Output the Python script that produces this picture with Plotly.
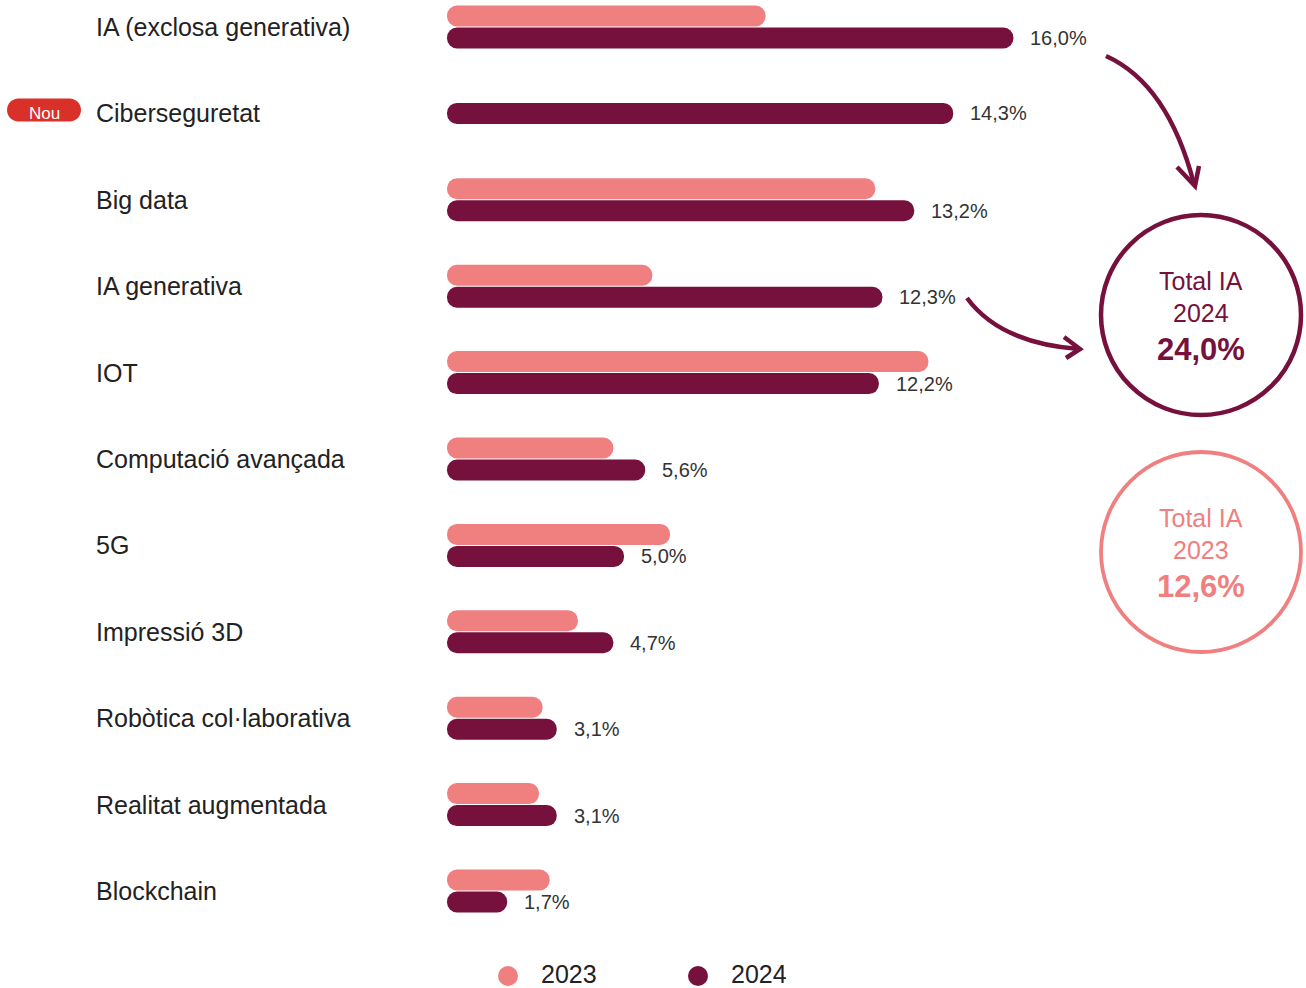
import plotly.graph_objects as go

# ---------------- data ----------------
categories = ["IA (exclosa generativa)", "Ciberseguretat", "Big data", "IA generativa", "IOT",
              "Computació avançada", "5G", "Impressió 3D", "Robòtica col·laborativa",
              "Realitat augmentada", "Blockchain"]
values_2023 = [9.0, None, 12.1, 5.8, 13.6, 4.7, 6.3, 3.7, 2.7, 2.6, 2.9]
values_2024 = [16.0, 14.3, 13.2, 12.3, 12.2, 5.6, 5.0, 4.7, 3.1, 3.1, 1.7]
new_categories = ["Ciberseguretat"]
series_names = ["2023", "2024"]
total_ia_2023 = 12.6
total_ia_2024 = 24.0

# ---------------- style / layout constants ----------------
C2023 = "#F07F80"
C2024 = "#76103C"
CNEW = "#D9302A"
TXT = "#222222"
FONT = "Liberation Sans, Arial, sans-serif"

W, H = 1306, 988
ML, MR, MT, MB = 447, 0, 0, 48
PW, PH = W - ML - MR, H - MT - MB
PX_PER_PCT = 35.4
ROW_PX = 86.4
ROW0_PX = 27.0
BAR_PX = 21.0
GAP_PX = 1.0

BAR_W = BAR_PX / ROW_PX
OFF_2023 = -(BAR_PX + GAP_PX / 2) / ROW_PX
OFF_2024 = (GAP_PX / 2) / ROW_PX
OFF_SINGLE = -BAR_W / 2

y_low = -ROW0_PX / ROW_PX
y_high = y_low + PH / ROW_PX


def X(px):
    return (px - ML) / PW


def Y(py):
    return 1 - (py - MT) / PH


def fmt(v):
    return f"{v:.1f}".replace(".", ",") + "%"


fig = go.Figure()


def add_pill(vals, offsets, color):
    cats = [c for c, v in zip(categories, vals) if v is not None]
    xs = [v for v in vals if v is not None]
    offs = [o for o, v in zip(offsets, vals) if v is not None]
    fig.add_trace(go.Bar(y=cats, x=xs, base=[0] * len(xs), orientation="h",
                         offset=offs, width=BAR_W,
                         marker=dict(color=color, cornerradius="50%", line=dict(width=0)),
                         showlegend=False, hoverinfo="skip"))


only_2024 = [values_2023[i] is None for i in range(len(categories))]
off24 = [OFF_SINGLE if s else OFF_2024 for s in only_2024]
off23 = [OFF_2023] * len(categories)
add_pill(values_2023, off23, C2023)
add_pill(values_2024, off24, C2024)

annotations = []
# category labels
for c in categories:
    annotations.append(dict(x=X(94), xref="paper", y=c, yref="y", text=c, showarrow=False,
                            xanchor="left", yanchor="middle",
                            font=dict(size=25, color=TXT, family=FONT)))
# value labels (2024)
for c, v, o in zip(categories, values_2024, off24):
    yshift = -(o + BAR_W / 2) * ROW_PX
    annotations.append(dict(x=v, xref="x", y=c, yref="y", text=fmt(v), showarrow=False,
                            xanchor="left", yanchor="middle", xshift=15, yshift=yshift,
                            font=dict(size=20, color="#333333", family=FONT)))
# "Nou" badge text
for c in new_categories:
    annotations.append(dict(x=X(44), xref="paper", y=c, yref="y", text="Nou", showarrow=False,
                            xanchor="center", yanchor="middle",
                            font=dict(size=17, color="white", family=FONT)))

# circles with totals
for cy, col, yr, tot in [(315, C2024, series_names[1], total_ia_2024),
                         (552, C2023, series_names[0], total_ia_2023)]:
    annotations.append(dict(x=X(1201), y=Y(cy - 34), xref="paper", yref="paper", text="Total IA",
                            showarrow=False, xanchor="center", yanchor="middle",
                            font=dict(size=25, color=col, family=FONT)))
    annotations.append(dict(x=X(1201), y=Y(cy - 2), xref="paper", yref="paper", text=yr,
                            showarrow=False, xanchor="center", yanchor="middle",
                            font=dict(size=25, color=col, family=FONT)))
    annotations.append(dict(x=X(1201), y=Y(cy + 34), xref="paper", yref="paper",
                            text="<b>" + fmt(tot) + "</b>",
                            showarrow=False, xanchor="center", yanchor="middle",
                            font=dict(size=31, color=col, family=FONT)))

# legend (manual)
for lx, col, nm in [(508, C2023, series_names[0]), (698, C2024, series_names[1])]:
    annotations.append(dict(x=X(lx + 31), y=Y(974), xref="paper", yref="paper", text=nm,
                            showarrow=False, xanchor="left", yanchor="middle",
                            font=dict(size=25, color=TXT, family=FONT)))

shapes = []
for cy, col, w in [(315, C2024, 4.5), (552, C2023, 3.8)]:
    r = 100
    shapes.append(dict(type="circle", xref="paper", yref="paper",
                       x0=X(1201 - r), x1=X(1201 + r), y0=Y(cy + r), y1=Y(cy - r),
                       line=dict(color=col, width=w)))

for lx, col in [(508, C2023), (698, C2024)]:
    r = 10
    shapes.append(dict(type="circle", xref="paper", yref="paper",
                       x0=X(lx - r), x1=X(lx + r), y0=Y(976 + r), y1=Y(976 - r),
                       fillcolor=col, line=dict(width=0)))


def P(px, py):
    return f"{X(px):.5f},{Y(py):.5f}"


# curved arrows
shapes.append(dict(type="path", xref="paper", yref="paper",
                   path=f"M{P(1106, 56)} Q{P(1168, 84)} {P(1194, 184)}",
                   line=dict(color=C2024, width=4.5)))
shapes.append(dict(type="path", xref="paper", yref="paper",
                   path=f"M{P(1177, 167)} L{P(1195, 186)} L{P(1199, 166)}",
                   line=dict(color=C2024, width=4.5)))
shapes.append(dict(type="path", xref="paper", yref="paper",
                   path=f"M{P(967, 298)} Q{P(1000, 343)} {P(1079, 349)}",
                   line=dict(color=C2024, width=4.5)))
shapes.append(dict(type="path", xref="paper", yref="paper",
                   path=f"M{P(1064, 337)} L{P(1080, 349)} L{P(1066, 358)}",
                   line=dict(color=C2024, width=4.5)))

# "Nou" badge pill
bx0, bx1, by0, by1 = 7, 81, 98.5, 121.5
br = (by1 - by0) / 2
k = 0.5523 * br
pill = (f"M{P(bx0 + br, by0)} L{P(bx1 - br, by0)} "
        f"C{P(bx1 - br + k, by0)} {P(bx1, by0 + br - k)} {P(bx1, by0 + br)} "
        f"C{P(bx1, by0 + br + k)} {P(bx1 - br + k, by1)} {P(bx1 - br, by1)} "
        f"L{P(bx0 + br, by1)} "
        f"C{P(bx0 + br - k, by1)} {P(bx0, by0 + br + k)} {P(bx0, by0 + br)} "
        f"C{P(bx0, by0 + br - k)} {P(bx0 + br - k, by0)} {P(bx0 + br, by0)} Z")
shapes.append(dict(type="path", xref="paper", yref="paper", path=pill,
                   fillcolor=CNEW, line=dict(width=0), layer="below"))

fig.update_layout(
    width=W, height=H,
    margin=dict(l=ML, r=MR, t=MT, b=MB, pad=0),
    barmode="overlay",
    paper_bgcolor="white", plot_bgcolor="white",
    showlegend=False,
    xaxis=dict(range=[0, PW / PX_PER_PCT], visible=False, fixedrange=True),
    yaxis=dict(type="category", categoryorder="array", categoryarray=categories,
               range=[y_high, y_low], visible=False, fixedrange=True),
    annotations=annotations,
    shapes=shapes,
    font=dict(family=FONT),
)

fig.write_html("out.html", config={"displayModeBar": False},
               post_script="document.body.style.margin='0px';document.body.style.overflow='hidden';")
